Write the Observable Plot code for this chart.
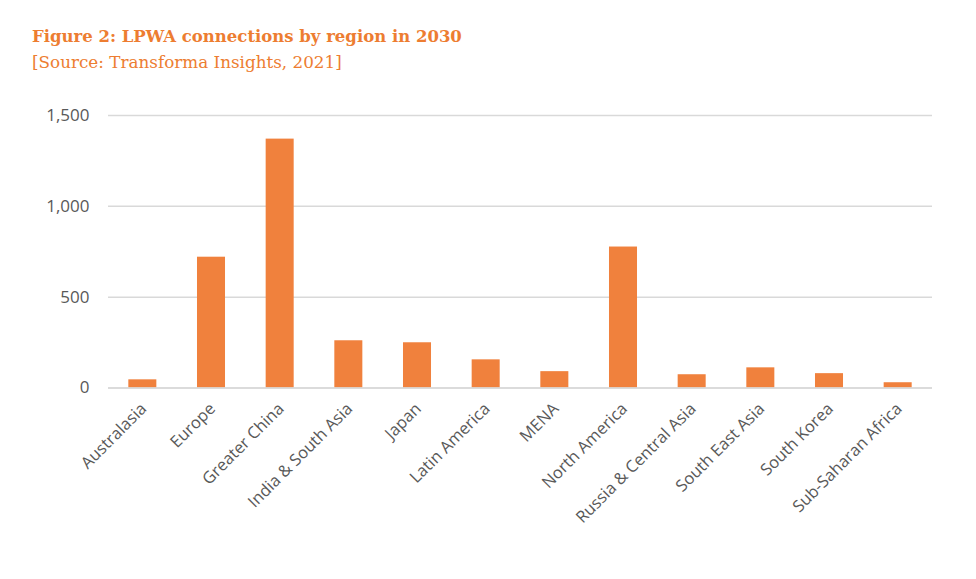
<!DOCTYPE html>
<html>
<head>
<meta charset="utf-8">
<script src="https://cdn.jsdelivr.net/npm/d3@7"></script>
<script src="https://cdn.jsdelivr.net/npm/@observablehq/plot@0.6"></script>
<style>
  body { margin: 0; background: #fff; }
  #wrap { position: relative; width: 976px; height: 579px; }
  #title { position: absolute; left: 32px; top: 27px; font-family: "DejaVu Serif", serif; font-weight: bold; font-size: 16.5px; color: #ed7d31; }
  #sub { position: absolute; left: 32px; top: 52px; font-family: "DejaVu Serif", serif; font-size: 16.8px; color: #ed7d31; }
  svg { position: absolute; left: 0; top: 0; }
</style>
</head>
<body>
<div id="wrap">
  <div id="title">Figure 2: LPWA connections by region in 2030</div>
  <div id="sub">[Source: Transforma Insights, 2021]</div>
</div>
<script>
const regions = ["Australasia","Europe","Greater China","India & South Asia","Japan","Latin America","MENA","North America","Russia & Central Asia","South East Asia","South Korea","Sub-Saharan Africa"];
const values = [45, 720, 1370, 260, 249, 155, 90, 776, 73, 111, 79, 29];
const yTicks = [0, 500, 1000, 1500];

const data = regions.map((r, i) => ({region: r, value: values[i]}));

const chart = Plot.plot({
  width: 976,
  height: 579,
  marginTop: 115,
  marginBottom: 191.5,
  marginLeft: 108,
  marginRight: 44,
  style: {fontFamily: "'Open Sans', sans-serif", fontSize: "16px", color: "#595959", background: "transparent"},
  x: {domain: regions, paddingInner: 0.592, paddingOuter: 0.296, round: false, label: null},
  y: {domain: [0, 1500], label: null},
  marks: [
    Plot.gridY(yTicks, {stroke: "#d9d9d9", strokeOpacity: 1, strokeWidth: 1.5}),
    Plot.barY(data, {x: "region", y: "value", fill: "#f0813d"}),
    Plot.axisY(yTicks, {tickSize: 0, tickPadding: 19, fontSize: 17, tickFormat: d3.format(",")}),
    Plot.axisX({tickSize: 0, tickPadding: 18, tickRotate: -45, fontSize: 16.5, dx: 1}),
    Plot.ruleY([0], {stroke: "#d9d9d9", strokeWidth: 1.5})
  ]
});
document.getElementById("wrap").appendChild(chart);
</script>
</body>
</html>
